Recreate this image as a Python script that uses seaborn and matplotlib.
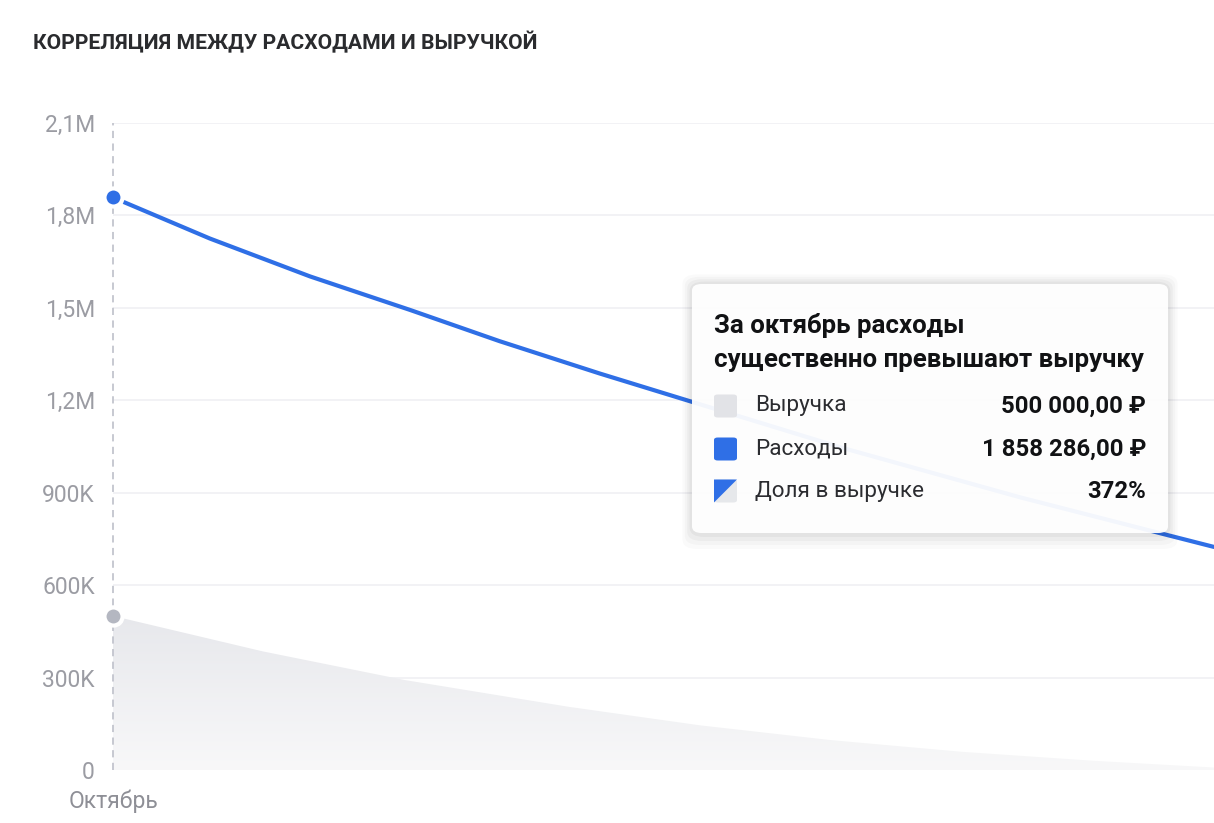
import numpy as np
import pandas as pd
import matplotlib
matplotlib.use("Agg")
import matplotlib.pyplot as plt
from matplotlib.patches import FancyBboxPatch, Polygon
import seaborn as sns

# data (x: 0 = October, 1 = right edge of the plot)
month_labels = ["Октябрь"]
expense_x = [0.0, 0.088, 0.179, 0.270, 0.351, 0.442, 0.524, 0.663, 0.825, 0.955, 1.0]
expense_y = [1858286, 1725000, 1602000, 1493000, 1392000, 1287000, 1197000,
             1045000, 884000, 765000, 724000]
revenue_x = [0.0, 0.136, 0.265, 0.414, 0.533, 0.652, 0.771, 0.890, 1.0]
revenue_y = [500000, 385000, 292000, 205000, 145000, 97000, 59000, 30000, 8000]
y_ticks = [0, 300000, 600000, 900000, 1200000, 1500000, 1800000, 2100000]
y_tick_labels = ["0", "300K", "600K", "900K", "1,2M", "1,5M", "1,8M", "2,1M"]

title = "КОРРЕЛЯЦИЯ МЕЖДУ РАСХОДАМИ И ВЫРУЧКОЙ"
tip_title = ["За октябрь расходы", "существенно превышают выручку"]
tip_labels = ["Выручка", "Расходы", "Доля в выручке"]
tip_values = ["500 000,00 ₽", "1 858 286,00 ₽", "372%"]

BLUE = "#2f6fe6"
GREY_DOT = "#b4b7c1"
TICK = "#9b9ca3"

sns.set_theme(style="white")
plt.rcParams["font.family"] = ["Roboto", "DejaVu Sans"]

W, H = 1214, 823
fig = plt.figure(figsize=(W / 100, H / 100), dpi=100)
fig.patch.set_facecolor("white")


def fx(px):
    return px / W


def fy(py):
    return 1 - py / H


ax = fig.add_axes([fx(113), fy(770), fx(1214 - 113), (770 - 123) / H])
ax.set_xlim(0, 1)
ax.set_ylim(0, 2100000)

# gridlines
for t in y_ticks:
    ax.axhline(t, color="#f1f1f4", lw=1.3, zorder=0)

# revenue area with a soft vertical gradient
poly_pts = list(zip(revenue_x, revenue_y)) + [(1.0, 0), (0.0, 0)]
clip = Polygon(poly_pts, closed=True, facecolor="none", edgecolor="none")
ax.add_patch(clip)
grad = np.linspace(0, 1, 256).reshape(-1, 1)
cmap = matplotlib.colors.LinearSegmentedColormap.from_list("g", ["#f8f8f9", "#e7e8ec"])
img = ax.imshow(grad, extent=[0, 1, 0, 500000], origin="lower", aspect="auto",
                cmap=cmap, zorder=1)
img.set_clip_path(clip)

# dashed cursor line at October
ax.plot([0, 0], [0, 2100000], ls=(0, (4, 3)), color="#c3c5ce", lw=1.3,
        clip_on=False, zorder=2)

# expenses line
df_exp = pd.DataFrame({"x": expense_x, "y": expense_y})
sns.lineplot(data=df_exp, x="x", y="y", ax=ax, color=BLUE, lw=3, zorder=3)

# hover dots
ax.scatter([expense_x[0]], [expense_y[0]], s=170, color=BLUE, edgecolor="white",
           linewidth=3, zorder=5, clip_on=False)
ax.scatter([revenue_x[0]], [revenue_y[0]], s=170, color=GREY_DOT, edgecolor="white",
           linewidth=3, zorder=5, clip_on=False)

ax.set_yticks(y_ticks)
ax.set_yticklabels(y_tick_labels)
ax.set_xticks([0])
ax.set_xticklabels(month_labels)
ax.tick_params(axis="y", length=0, pad=13, labelsize=16.5, labelcolor=TICK)
ax.tick_params(axis="x", length=0, pad=14, labelsize=16.5, labelcolor="#8e8f96")
ax.set_xlabel("")
ax.set_ylabel("")
for s in ax.spines.values():
    s.set_visible(False)
ax.set_facecolor("none")

# chart title
fig.text(fx(33), fy(42), title, fontsize=15.2, fontweight="bold", color="#2a2b2e",
         va="center", ha="left")

# tooltip box with shadow
bx0, by0, bx1, by1 = 692, 284, 1168, 533
for i, a in enumerate([0.02, 0.025, 0.03, 0.035]):
    g = 16 - i * 4
    sh = FancyBboxPatch((fx(bx0 - g * 0.6), fy(by1 + g)), fx(bx1 - bx0 + g * 1.2),
                        (by1 - by0 + g * 1.6) / H,
                        boxstyle="round,pad=0,rounding_size=0.012",
                        transform=fig.transFigure, facecolor="black", edgecolor="none",
                        alpha=a, zorder=8)
    fig.patches.append(sh)
box = FancyBboxPatch((fx(bx0), fy(by1)), fx(bx1 - bx0), (by1 - by0) / H,
                     boxstyle="round,pad=0,rounding_size=0.008",
                     transform=fig.transFigure, facecolor="white", edgecolor="none",
                     alpha=0.95, zorder=9)
fig.patches.append(box)

fig.text(fx(714), fy(326), tip_title[0], fontsize=18.6, fontweight="bold",
         color="#111214", va="center", zorder=10)
fig.text(fx(714), fy(360), tip_title[1], fontsize=18.6, fontweight="bold",
         color="#111214", va="center", zorder=10)

row_y = [406, 449, 491]
sq = 23
for i, (lab, val) in enumerate(zip(tip_labels, tip_values)):
    cy = row_y[i]
    x0, y0 = fx(714), fy(cy + sq / 2)
    if i == 2:
        # half-blue, half-grey diagonal swatch
        base = FancyBboxPatch((x0, y0), fx(sq), sq / H,
                              boxstyle="round,pad=0,rounding_size=0.003",
                              transform=fig.transFigure, facecolor="#e6e8eb",
                              edgecolor="none", zorder=10)
        fig.patches.append(base)
        tri = Polygon([(fx(714), fy(cy - sq / 2)), (fx(714 + sq), fy(cy - sq / 2)),
                       (fx(714), fy(cy + sq / 2))], closed=True,
                      transform=fig.transFigure, facecolor=BLUE, edgecolor="none",
                      zorder=11)
        fig.patches.append(tri)
    else:
        c = "#e2e3e7" if i == 0 else BLUE
        p = FancyBboxPatch((x0, y0), fx(sq), sq / H,
                           boxstyle="round,pad=0,rounding_size=0.003",
                           transform=fig.transFigure, facecolor=c, edgecolor="none",
                           zorder=10)
        fig.patches.append(p)
    fig.text(fx(755), fy(cy), lab, fontsize=16.2, color="#2b2c30", va="center",
             ha="left", zorder=12)
    fig.text(fx(1146), fy(cy), val, fontsize=17.2, fontweight="bold", color="#111214",
             va="center", ha="right", zorder=12)

fig.savefig("out.png", dpi=100, facecolor="white")
